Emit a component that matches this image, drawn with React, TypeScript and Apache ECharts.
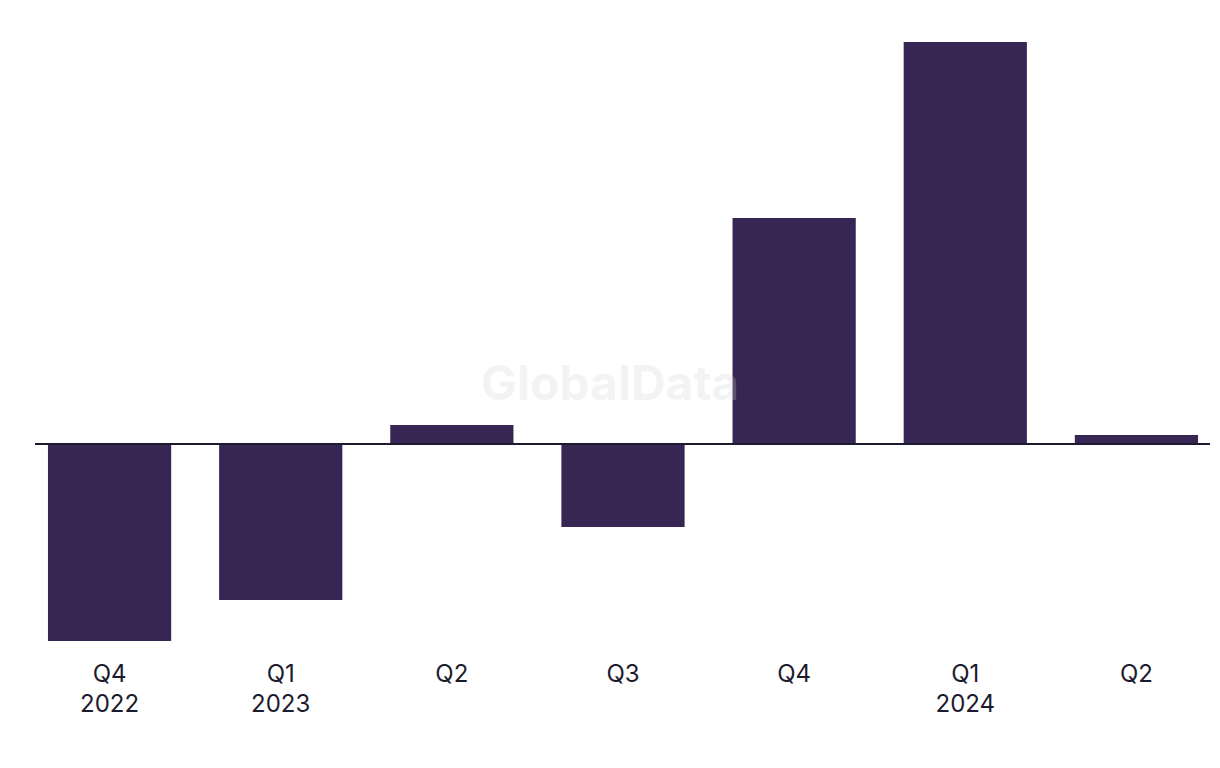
import React, { useEffect, useRef } from "react";
import * as echarts from "echarts";

const quarters = ["Q4\n2022", "Q1\n2023", "Q2", "Q3", "Q4", "Q1\n2024", "Q2"];
const values = [-19.7, -15.6, 1.9, -8.3, 22.6, 40.2, 0.9];
const yMin = -19.7;
const yMax = 40.2;

export default function App() {
  const ref = useRef<HTMLDivElement>(null);
  useEffect(() => {
    document.body.style.margin = "0";
    if (!ref.current) return;
    const chart = echarts.init(ref.current, undefined, { renderer: "svg" });
    chart.setOption({
      animation: false,
      backgroundColor: "#ffffff",
      grid: {
        left: 24,
        width: 1198,
        top: 42,
        bottom: 127,
        containLabel: false,
        outerBoundsMode: "none",
      },
      xAxis: {
        type: "category",
        data: quarters,
        axisLine: { show: false, onZero: false },
        axisTick: { show: false },
        axisLabel: {
          color: "#1c1b2e",
          fontSize: 24,
          fontFamily: "Inter, 'Noto Sans', sans-serif",
          lineHeight: 30,
          margin: 17,
        },
      },
      yAxis: {
        type: "value",
        min: yMin,
        max: yMax,
        show: false,
        splitLine: { show: false },
      },
      series: [
        {
          type: "bar",
          data: values,
          barCategoryGap: "28%",
          itemStyle: { color: "#372554" },
        },
      ],
    });
    const y0 = chart.convertToPixel({ yAxisIndex: 0 }, 0) as number;
    chart.setOption({
      graphic: [
        {
          type: "text",
          left: "center",
          top: 358,
          z: 100,
          style: {
            text: "GlobalData",
            fill: "rgba(210,210,210,0.25)",
            font: "bold 48px Inter, 'Noto Sans', sans-serif",
          },
        },
        {
          type: "line",
          z: 100,
          shape: { x1: 35, y1: y0, x2: 1210, y2: y0 },
          style: { stroke: "#1c1b2e", lineWidth: 2 },
        },
      ],
    });
    return () => chart.dispose();
  }, []);
  return <div ref={ref} style={{ width: 1220, height: 768 }} />;
}
